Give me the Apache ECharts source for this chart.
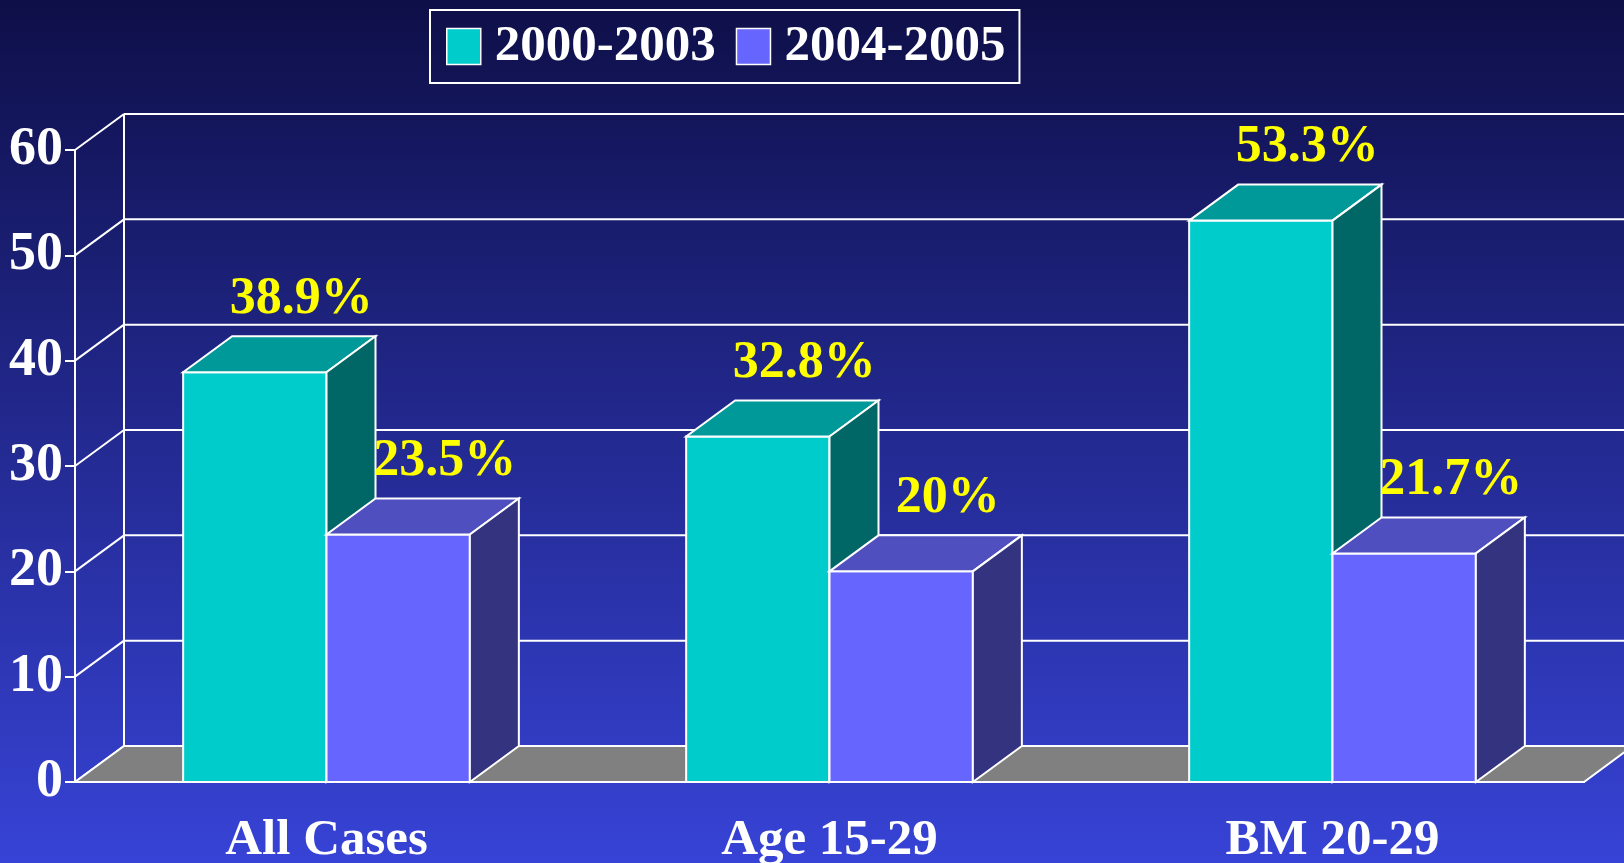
<!DOCTYPE html>
<html>
<head>
  <meta charset="UTF-8">
  <title>3D bar chart</title>
  <style>
    html, body { margin: 0; padding: 0; }
    #chart { width: 1624px; height: 863px; }
  </style>
</head>
<body>
  <div id="chart"></div>
  <script src="https://cdn.jsdelivr.net/npm/echarts@6/dist/echarts.min.js"></script>
  <script>
    // data
    const categories = ['All Cases', 'Age 15-29', 'BM 20-29'];
    const seriesNames = ['2000-2003', '2004-2005'];
    const values2000 = [38.9, 32.8, 53.3];
    const values2004 = [23.5, 20, 21.7];
    const labels2000 = ['38.9%', '32.8%', '53.3%'];
    const labels2004 = ['23.5%', '20%', '21.7%'];
    const yTicks = [0, 10, 20, 30, 40, 50, 60];

    const FONT = '"Liberation Serif", "Times New Roman", serif';
    const DX = 49, DY = 36;   // depth offset of the fake 3d
    const TEAL = { front: '#00cccc', top: '#009999', side: '#006666' };
    const VIOLET = { front: '#6666ff', top: '#4f4fc0', side: '#333380' };

    function barRenderer(slot, col, labels) {
      return function (params, api) {
        const cat = api.value(0);
        const base = api.coord([cat, 0]);
        const tp = api.coord([cat, api.value(1)]);
        const bw = api.size([1, 0])[0] * 0.285;
        const x0 = slot === 0 ? base[0] - bw : base[0];
        const x1 = x0 + bw;
        const y0 = base[1], y1 = tp[1];
        const stroke = { stroke: '#fff', lineWidth: 2, lineJoin: 'miter' };
        return {
          type: 'group',
          children: [
            { type: 'polygon', shape: { points: [[x0, y0], [x1, y0], [x1, y1], [x0, y1]] },
              style: Object.assign({ fill: col.front }, stroke) },
            { type: 'polygon', shape: { points: [[x0, y1], [x1, y1], [x1 + DX, y1 - DY], [x0 + DX, y1 - DY]] },
              style: Object.assign({ fill: col.top }, stroke) },
            { type: 'polygon', shape: { points: [[x1, y0], [x1 + DX, y0 - DY], [x1 + DX, y1 - DY], [x1, y1]] },
              style: Object.assign({ fill: col.side }, stroke) },
            { type: 'text',
              style: {
                text: labels[params.dataIndex],
                x: (x0 + x1) / 2 + DX / 2 + 22, y: y1 - DY - 11,
                align: 'center', verticalAlign: 'bottom',
                fill: '#ffff00', font: 'bold 52px ' + FONT
              } }
          ]
        };
      };
    }

    const chart = echarts.init(document.getElementById('chart'));
    chart.setOption({
      backgroundColor: new echarts.graphic.LinearGradient(0, 0, 0, 1, [
        { offset: 0, color: '#0e0f48' },
        { offset: 1, color: '#3743d6' }
      ]),
      animation: false,
      legend: {
        left: 430, top: 10,
        padding: [11, 14, 11, 16],
        borderColor: '#fff', borderWidth: 2,
        itemWidth: 34, itemHeight: 36, itemGap: 20,
        icon: 'rect',
        textStyle: { color: '#fff', fontFamily: FONT, fontWeight: 'bold', fontSize: 51, padding: [0, 0, 0, 9] },
        data: [
          { name: seriesNames[0], itemStyle: { color: TEAL.front, borderColor: '#fff', borderWidth: 1.5 } },
          { name: seriesNames[1], itemStyle: { color: VIOLET.front, borderColor: '#fff', borderWidth: 1.5 } }
        ]
      },
      grid: { left: 75, right: 40, top: 150, bottom: 81, outerBoundsMode: 'none' },
      xAxis: {
        type: 'category',
        data: categories,
        axisLine: { lineStyle: { color: '#fff', width: 2 } },
        axisTick: { length: 11, lineStyle: { color: '#fff', width: 2 } },
        axisLabel: { color: '#fff', fontFamily: FONT, fontWeight: 'bold', fontSize: 51, margin: 33 }
      },
      yAxis: {
        type: 'value', min: 0, max: 60, interval: 10,
        splitLine: { show: false },
        axisLine: { show: true, lineStyle: { color: '#fff', width: 2 } },
        axisTick: { show: true, length: 10, lineStyle: { color: '#fff', width: 2 } },
        axisLabel: { color: '#fff', fontFamily: FONT, fontWeight: 'bold', fontSize: 54, margin: 12 }
      },
      series: [
        {
          // side and back walls
          type: 'custom', name: 'walls', silent: true, z: 1,
          data: yTicks.map(v => [0, v]),
          renderItem: function (params, api) {
            const cs = params.coordSys;
            const y = api.coord([0, api.value(1)])[1];
            const left = cs.x, right = cs.x + cs.width;
            const ls = { stroke: '#fff', lineWidth: 2 };
            const kids = [
              { type: 'line', shape: { x1: left, y1: y, x2: left + DX, y2: y - DY }, style: ls },
              { type: 'line', shape: { x1: left + DX, y1: y - DY, x2: right + DX + 20, y2: y - DY }, style: ls }
            ];
            if (params.dataIndex === 0) {
              kids.push({ type: 'line',
                shape: { x1: left + DX, y1: cs.y - DY, x2: left + DX, y2: cs.y + cs.height - DY }, style: ls });
            }
            return { type: 'group', children: kids };
          }
        },
        {
          // floor
          type: 'custom', name: 'floor', silent: true, z: 1,
          data: [[0, 0]],
          renderItem: function (params, api) {
            const cs = params.coordSys;
            const y = cs.y + cs.height, l = cs.x, r = cs.x + cs.width;
            return {
              type: 'polygon',
              shape: { points: [[l, y], [r, y], [r + DX, y - DY], [l + DX, y - DY]] },
              style: { fill: '#808080', stroke: '#fff', lineWidth: 2 }
            };
          }
        },
        {
          type: 'custom', name: seriesNames[0], z: 2,
          itemStyle: { color: TEAL.front },
          data: values2000.map((v, i) => [i, v]),
          renderItem: barRenderer(0, TEAL, labels2000)
        },
        {
          type: 'custom', name: seriesNames[1], z: 2,
          itemStyle: { color: VIOLET.front },
          data: values2004.map((v, i) => [i, v]),
          renderItem: barRenderer(1, VIOLET, labels2004)
        }
      ]
    });
  </script>
</body>
</html>
